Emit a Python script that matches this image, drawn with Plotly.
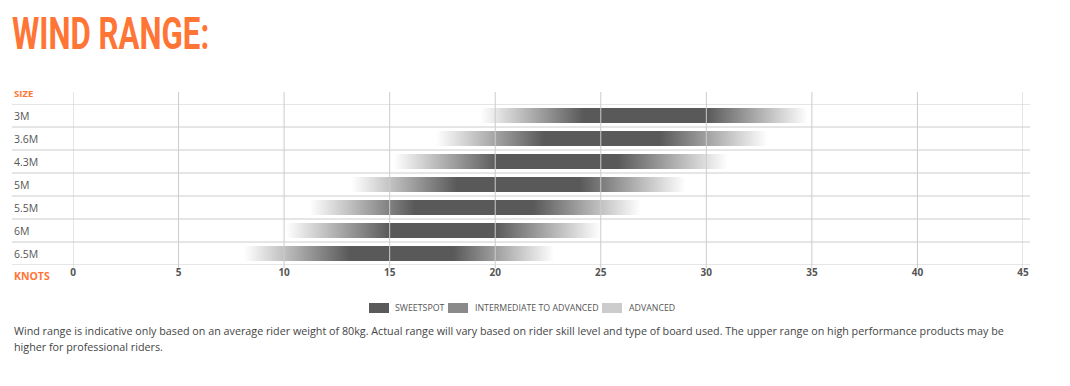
import plotly.graph_objects as go

# ---------------- data ----------------
sizes = ["3M", "3.6M", "4.3M", "5M", "5.5M", "6M", "6.5M"]
range_start = [19.3, 17.2, 15.2, 13.2, 11.2, 10.1, 8.1]   # lightest (advanced) start
sweet_start = [24.2, 22.3, 20.1, 18.2, 16.2, 15.0, 13.1]  # sweetspot start
sweet_end = [30.0, 27.8, 25.8, 24.0, 21.8, 20.0, 18.0]    # sweetspot end
range_end = [34.8, 32.9, 31.0, 29.0, 26.9, 25.0, 22.8]    # lightest (advanced) end
knot_ticks = [0, 5, 10, 15, 20, 25, 30, 35, 40, 45]
legend_labels = ["SWEETSPOT", "INTERMEDIATE TO ADVANCED", "ADVANCED"]
legend_colors = ["#5a5a5a", "#8a8a8a", "#cccccc"]

# ---------------- style ----------------
W, H = 1070, 386
L, R, T, B = 73, 47, 104, 121
PW, PH = W - L - R, H - T - B
DARK = "#595959"
FADE = "#ffffff"
GRID = "#cccccc"
ORANGE = "#ff7535"
TXT = "#555555"
FONT = "Open Sans, Lato, sans-serif"
HALF = 0.33


def px(xp):
    return (xp - L) / PW


def py(yp):
    return (T + PH - yp) / PH


fig = go.Figure()

for i, name in enumerate(sizes):
    s, a, b, e = range_start[i], sweet_start[i], sweet_end[i], range_end[i]
    span = e - s
    cs = [[0.0, FADE], [(a - s) / span, DARK], [(b - s) / span, DARK], [1.0, FADE]]
    fig.add_trace(go.Scatter(
        x=[s, e, e, s, s],
        y=[i - HALF, i - HALF, i + HALF, i + HALF, i - HALF],
        mode="lines", line=dict(width=0), fill="toself",
        fillgradient=dict(type="horizontal", colorscale=cs, start=s, stop=e),
        name=name, showlegend=False, hoverinfo="skip",
    ))

shapes = []
# row separators
for k in range(len(sizes) + 1):
    shapes.append(dict(type="line", xref="paper", yref="y", x0=px(12), x1=px(1030),
                       y0=k - 0.5, y1=k - 0.5, line=dict(color=GRID, width=1), layer="above"))
# vertical grid lines
for v in knot_ticks:
    shapes.append(dict(type="line", xref="x", yref="paper", x0=v, x1=v,
                       y0=py(268), y1=py(92), line=dict(color=GRID, width=1), layer="above"))

annotations = []
for i, name in enumerate(sizes):
    annotations.append(dict(text=name, xref="paper", yref="y", x=px(12), y=i,
                            xanchor="left", yanchor="middle", showarrow=False,
                            font=dict(family=FONT, size=10.5, color=TXT)))
annotations.append(dict(text="<b>SIZE</b>", xref="paper", yref="paper", x=px(12), y=py(93.5),
                        xanchor="left", yanchor="middle", showarrow=False,
                        font=dict(family=FONT, size=9.5, color=ORANGE)))
annotations.append(dict(text="<b>KNOTS</b>", xref="paper", yref="paper", x=px(12), y=py(275.5),
                        xanchor="left", yanchor="middle", showarrow=False,
                        font=dict(family=FONT, size=10.5, color=ORANGE)))

# legend key
sw_x = [369, 448, 602]
tx_x = [393, 473, 627]
for lab, col, sx, tx in zip(legend_labels, legend_colors, sw_x, tx_x):
    shapes.append(dict(type="rect", xref="paper", yref="paper", x0=px(sx), x1=px(sx + 20),
                       y0=py(313), y1=py(303), fillcolor=col, line=dict(width=0)))
    annotations.append(dict(text=lab, xref="paper", yref="paper", x=px(tx), y=py(308),
                            xanchor="left", yanchor="middle", showarrow=False,
                            font=dict(family=FONT, size=8.8, color=TXT)))

note1 = ("Wind range is indicative only based on an average rider weight of 80kg. Actual range will vary "
         "based on rider skill level and type of board used. The upper range on high performance products may be")
note2 = "higher for professional riders."
for txt, yy in [(note1, 331), (note2, 347)]:
    annotations.append(dict(text=txt, xref="paper", yref="paper", x=px(12), y=py(yy),
                            xanchor="left", yanchor="middle", showarrow=False,
                            font=dict(family=FONT, size=10.75, color="#444444")))

fig.update_layout(
    width=W, height=H,
    margin=dict(l=L, r=R, t=T, b=B),
    paper_bgcolor="white", plot_bgcolor="white",
    title=dict(text="<b>WIND RANGE:</b>", xref="container", yref="container",
               x=12 / W, y=1 - 34 / H, xanchor="left", yanchor="middle",
               font=dict(family="Roboto, sans-serif", size=44, color=ORANGE)),
    xaxis=dict(range=[0, 45], tickvals=knot_ticks, ticktext=[f"<b>{v}</b>" for v in knot_ticks],
               showgrid=False, zeroline=False, showline=False, ticks="",
               tickfont=dict(family=FONT, size=10, color=TXT), fixedrange=True),
    yaxis=dict(range=[len(sizes) - 0.5, -0.5], showgrid=False, zeroline=False,
               showticklabels=False, showline=False, fixedrange=True),
    shapes=shapes, annotations=annotations, showlegend=False,
)

post = """
document.body.style.margin = '0';
var gd = document.getElementById('{plot_id}');
var t = gd ? gd.querySelector('.gtitle') : null;
if (t) {
  var x0 = parseFloat(t.getAttribute('x')) || 0;
  t.setAttribute('transform', 'translate(' + x0 + ',0) scale(0.71,1) translate(' + (-x0) + ',0)');
}
"""

fig.write_html("out.html", post_script=post, config={"displayModeBar": False})
